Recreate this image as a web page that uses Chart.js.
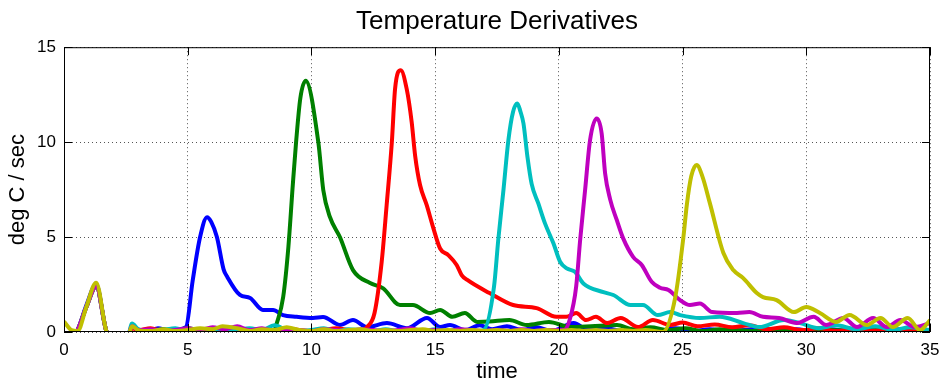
<!DOCTYPE html>
<html>
<head>
<meta charset="utf-8">
<script src="https://cdn.jsdelivr.net/npm/chart.js@4/dist/chart.umd.min.js"></script>
<style>
  html, body { margin: 0; padding: 0; background: #fff; }
  #wrap { width: 940px; height: 387px; }
</style>
</head>
<body>
<div id="wrap"><canvas id="derivChart"></canvas></div>
<script>
// time samples and deg C / sec values
const blueT = [0, 0.3, 0.55, 0.9, 1.3, 1.7, 2.1, 2.6, 2.75, 3.0, 3.4, 3.8, 4.2, 4.6, 4.93, 5.2, 5.5, 5.78, 5.95, 6.18, 6.45, 6.6, 7.11, 7.52, 8.04, 8.45, 8.85, 9.4, 10.06, 10.47, 11.15, 11.68, 12.25, 13.05, 13.86, 14.67, 15.2, 15.6, 16.2, 16.8, 17.3, 17.9, 18.5, 19.1, 19.7, 20.6, 21.2, 21.9, 22.6, 23.3, 24.0, 24.7, 25.4, 26.1, 26.8, 27.5, 28.2, 28.9, 29.6, 30.3, 31.0, 31.7, 32.4, 33.1, 33.8, 34.5, 35];
const blueY = [-0.6, -0.3, 0.1, 1.4, 2.5, 0.1, -0.8, -0.2, 0.35, 0.1, 0.05, 0.2, 0.1, 0.15, 0.26, 2.7, 5.0, 6.05, 5.8, 5.0, 3.3, 2.9, 1.95, 1.79, 1.16, 1.16, 0.89, 0.8, 0.74, 0.79, 0.37, 0.63, 0.26, 0.47, 0.2, 0.74, 0.26, 0.37, 0.1, 0.35, 0.15, 0.3, 0.1, 0.25, 0.05, 0.47, 0.1, 0.2, 0.05, 0.15, 0.05, 0.2, 0.05, 0.15, 0.05, 0.1, 0.2, 0.05, 0.15, 0.05, 0.15, 0.05, 0.1, 0.05, 0.15, 0.05, 0.1];

const greenT = [0, 0.3, 0.55, 0.9, 1.3, 1.7, 2.1, 2.6, 2.75, 3.0, 3.5, 4.0, 4.5, 5.0, 5.5, 6.0, 6.5, 7.0, 7.5, 8.0, 8.5, 8.6, 8.86, 9.07, 9.25, 9.38, 9.55, 9.77, 10.28, 10.48, 10.75, 11.15, 11.68, 12.37, 12.9, 13.58, 14.1, 14.8, 15.2, 15.7, 16.2, 16.7, 17.2, 18.0, 18.7, 19.6, 20.45, 21.3, 22.35, 23.0, 23.7, 24.4, 25.1, 25.8, 26.5, 27.2, 28.0, 29.0, 30.0, 31.0, 32.0, 33.0, 34.0, 35];
const greenY = [-0.5, -0.3, 0.1, 1.3, 2.4, 0.1, -0.8, -0.2, 0.25, 0.1, 0.05, 0.15, 0.1, 0.2, 0.1, 0.15, 0.05, 0.2, 0.1, 0.05, 0.1, 0.46, 1.86, 4.5, 7.8, 10.0, 12.3, 13.23, 9.98, 7.47, 6.05, 5.0, 3.26, 2.58, 2.3, 1.42, 1.42, 1.0, 1.16, 0.8, 1.0, 0.53, 0.55, 0.63, 0.37, 0.53, 0.26, 0.3, 0.37, 0.15, 0.25, 0.1, 0.2, 0.05, 0.15, 0.1, 0.05, 0.15, 0.05, 0.1, 0.05, 0.1, 0.05, 0.05];

const redT = [0, 0.3, 0.55, 0.9, 1.3, 1.7, 2.1, 2.6, 2.75, 3.0, 3.5, 4.0, 4.5, 5.0, 5.5, 6.0, 6.5, 7.0, 7.5, 8.0, 8.5, 9.0, 9.5, 10.0, 10.5, 11.0, 11.5, 12.0, 12.25, 12.55, 12.84, 13.04, 13.25, 13.38, 13.61, 13.85, 14.05, 14.19, 14.39, 14.66, 14.93, 15.2, 15.53, 15.87, 16.07, 16.3, 17.2, 18.15, 19.1, 19.9, 20.3, 20.7, 21.1, 21.5, 21.95, 22.5, 23.2, 23.8, 24.5, 25.0, 25.6, 26.3, 27.0, 27.7, 28.4, 29.1, 29.8, 30.5, 31.2, 31.9, 32.6, 33.3, 34.0, 35];
const redY = [-0.5, -0.3, 0.1, 1.3, 2.4, 0.1, -0.8, -0.2, 0.2, 0.1, 0.2, 0.05, 0.15, 0.1, 0.05, 0.2, 0.1, 0.05, 0.15, 0.05, 0.1, 0.2, 0.1, 0.05, 0.1, 0.2, 0.1, 0.05, 0.26, 1.0, 3.7, 6.68, 10.0, 12.8, 13.79, 12.8, 11.07, 9.3, 7.74, 6.68, 5.46, 4.4, 4.05, 3.53, 3.0, 2.74, 2.05, 1.42, 1.26, 0.8, 0.8, 1.0, 0.63, 0.8, 0.47, 0.74, 0.26, 0.63, 0.37, 0.5, 0.3, 0.4, 0.25, 0.35, 0.15, 0.25, 0.1, 0.2, 0.05, 0.15, 0.05, 0.1, 0.05, 0.05];

const cyanT = [0, 0.3, 0.55, 0.9, 1.3, 1.7, 2.1, 2.6, 2.75, 3.0, 3.5, 4.0, 4.5, 5.0, 5.5, 6.0, 6.5, 7.0, 7.5, 8.0, 8.5, 9.0, 9.5, 10.0, 10.5, 11.0, 11.5, 12.0, 12.5, 13.0, 13.5, 14.0, 14.5, 15.0, 15.5, 16.0, 16.5, 16.95, 17.38, 17.55, 17.76, 17.96, 18.15, 18.32, 18.45, 18.57, 18.73, 18.9, 19.17, 19.44, 19.78, 20.05, 20.32, 20.65, 20.99, 21.8, 22.2, 22.9, 23.4, 24.0, 24.5, 24.9, 25.7, 26.5, 27.45, 28.1, 29.1, 29.75, 30.5, 31.2, 32.0, 32.8, 33.5, 34.2, 35];
const cyanY = [-0.5, -0.3, 0.1, 1.3, 2.4, 0.1, -0.8, -0.2, 0.45, 0.15, 0.05, 0.1, 0.2, 0.05, 0.1, 0.15, 0.05, 0.1, 0.2, 0.1, 0.35, 0.1, 0.05, 0.1, 0.2, 0.05, 0.15, 0.1, 0.05, 0.15, 0.05, 0.1, 0.05, 0.15, 0.05, 0.1, 0.05, 0.1, 2.4, 4.84, 7.47, 10.1, 11.6, 12.04, 11.6, 10.98, 9.23, 7.8, 6.77, 5.72, 4.67, 3.7, 3.35, 3.17, 2.56, 2.1, 1.95, 1.42, 1.42, 0.89, 1.05, 0.89, 0.74, 0.8, 0.47, 0.26, 0.63, 0.47, 0.2, 0.35, 0.15, 0.3, 0.1, 0.25, 0.1];

const magentaT = [0, 0.3, 0.55, 0.9, 1.3, 1.7, 2.1, 2.6, 2.75, 3.0, 3.5, 4.0, 4.5, 5.0, 5.5, 6.0, 6.5, 7.0, 7.5, 8.0, 8.5, 9.0, 9.5, 10.0, 10.5, 11.0, 11.5, 12.0, 12.5, 13.0, 13.5, 14.0, 14.5, 15.0, 15.5, 16.0, 16.5, 17.0, 17.5, 18.0, 18.5, 19.0, 19.5, 20.2, 20.45, 20.7, 20.86, 21.06, 21.26, 21.53, 21.73, 21.87, 22.07, 22.34, 22.6, 23.0, 23.35, 23.75, 24.09, 24.43, 24.9, 25.3, 25.7, 26.2, 27.2, 27.7, 28.25, 28.9, 29.6, 30.3, 30.8, 31.5, 32.05, 32.7, 33.25, 33.8, 34.4, 35];
const magentaY = [-0.5, -0.3, 0.1, 1.3, 2.4, 0.1, -0.8, -0.2, 0.3, 0.1, 0.15, 0.05, 0.1, 0.2, 0.1, 0.25, 0.15, 0.3, 0.1, 0.2, 0.05, 0.15, 0.1, 0.05, 0.15, 0.1, 0.05, 0.15, 0.1, 0.05, 0.1, 0.2, 0.05, 0.1, 0.05, 0.15, 0.1, 0.05, 0.1, 0.05, 0.15, 0.05, 0.1, 0.1, 0.7, 2.4, 4.84, 7.47, 10.1, 11.25, 10.46, 8.35, 7.0, 5.9, 4.93, 3.96, 3.53, 2.65, 2.33, 2.21, 1.68, 1.42, 1.5, 1.05, 1.0, 1.05, 0.8, 0.74, 0.47, 0.8, 0.37, 0.74, 0.26, 0.74, 0.26, 0.63, 0.26, 0.47];

const yellowT = [0, 0.3, 0.55, 0.9, 1.3, 1.7, 2.1, 2.6, 2.75, 3.0, 3.5, 4.0, 4.5, 5.0, 5.5, 6.0, 6.4, 7.0, 7.5, 8.0, 8.5, 9.0, 9.5, 10.0, 10.5, 11.0, 11.5, 12.0, 12.5, 13.0, 13.5, 14.0, 14.5, 15.0, 15.5, 16.0, 16.5, 17.0, 17.5, 18.0, 18.5, 19.0, 19.5, 20.0, 20.5, 21.0, 21.5, 22.0, 22.5, 23.0, 23.5, 24.2, 24.7, 25.03, 25.17, 25.35, 25.57, 25.8, 26.1, 26.65, 27.05, 27.45, 28.0, 28.25, 28.8, 29.5, 30.0, 30.55, 31.2, 31.75, 32.45, 33.0, 33.5, 34.1, 34.6, 35];
const yellowY = [0.55, 0.1, 0.05, 1.3, 2.6, 0.1, -0.8, -0.2, 0.3, 0.1, 0.05, 0.15, 0.05, 0.1, 0.2, 0.15, 0.3, 0.2, 0.05, 0.15, 0.1, 0.25, 0.1, 0.05, 0.15, 0.05, 0.1, 0.15, 0.05, 0.1, 0.05, 0.1, 0.15, 0.05, 0.1, 0.05, 0.1, 0.05, 0.1, 0.05, 0.1, 0.05, 0.1, 0.05, 0.1, 0.05, 0.1, 0.05, 0.1, 0.05, 0.1, 0.0, 1.8, 4.95, 6.68, 8.2, 8.79, 8.2, 6.8, 4.16, 3.26, 2.84, 2.05, 1.84, 1.68, 1.05, 1.32, 1.0, 0.53, 0.9, 0.37, 0.74, 0.26, 0.74, 0.1, 0.63];

const seriesList = [
  { t: blueT, y: blueY, color: '#0000ff' },
  { t: greenT, y: greenY, color: '#008000' },
  { t: redT, y: redY, color: '#ff0000' },
  { t: cyanT, y: cyanY, color: '#00bfbf' },
  { t: magentaT, y: magentaY, color: '#bf00bf' },
  { t: yellowT, y: yellowY, color: '#bfbf00' }
];

const xTicks = [0, 5, 10, 15, 20, 25, 30, 35];
const yTicks = [0, 5, 10, 15];

// box + inward tick marks like matlab axes
const frameBox = {
  id: 'frameBox',
  afterDraw(chart) {
    const { ctx, chartArea: a, scales } = chart;
    ctx.save();
    ctx.strokeStyle = '#000';
    ctx.lineWidth = 1;
    ctx.strokeRect(a.left + 0.5, a.top + 0.5, a.right - a.left - 1, a.bottom - a.top - 1);
    ctx.beginPath();
    xTicks.forEach(v => {
      const px = Math.round(scales.x.getPixelForValue(v)) + 0.5;
      ctx.moveTo(px, a.bottom); ctx.lineTo(px, a.bottom - 8);
      ctx.moveTo(px, a.top); ctx.lineTo(px, a.top + 8);
    });
    yTicks.forEach(v => {
      const py = Math.round(scales.y.getPixelForValue(v)) + 0.5;
      ctx.moveTo(a.left, py); ctx.lineTo(a.left + 8, py);
      ctx.moveTo(a.right, py); ctx.lineTo(a.right - 8, py);
    });
    ctx.stroke();
    ctx.restore();
  }
};

const font = 'Liberation Sans, Arial, Helvetica, sans-serif';

new Chart(document.getElementById('derivChart'), {
  type: 'line',
  data: {
    datasets: seriesList.map((s, i) => ({
      data: s.t.map((t, k) => ({ x: t, y: s.y[k] })),
      borderColor: s.color,
      borderWidth: 4,
      pointRadius: 0,
      cubicInterpolationMode: 'monotone',
      fill: false,
      order: seriesList.length - i
    }))
  },
  options: {
    responsive: true,
    maintainAspectRatio: false,
    animation: false,
    layout: { padding: { left: 0, right: 10, top: 0, bottom: 0 } },
    plugins: {
      legend: { display: false },
      tooltip: { enabled: false },
      title: {
        display: true,
        fullSize: false,
        text: 'Temperature Derivatives',
        color: '#000',
        font: { family: font, size: 26, weight: 'normal' },
        padding: { top: 6, bottom: 10 }
      }
    },
    scales: {
      x: {
        type: 'linear',
        min: 0, max: 35,
        afterFit(scale) { scale.height = 55; scale.paddingRight = 0; scale.paddingLeft = 0; },
        ticks: { stepSize: 5, color: '#000', padding: 8, maxRotation: 0, font: { family: font, size: 17 } },
        grid: { color: '#555', lineWidth: 1, drawTicks: false },
        border: { display: false, dash: [1, 3] },
        title: { display: true, text: 'time', color: '#000', font: { family: font, size: 22 }, padding: { top: 0, bottom: 2 } }
      },
      y: {
        min: 0, max: 15,
        afterFit(scale) { scale.width = 64; },
        ticks: { stepSize: 5, color: '#000', padding: 8, font: { family: font, size: 17 } },
        grid: { color: '#555', lineWidth: 1, drawTicks: false },
        border: { display: false, dash: [1, 3] },
        title: { display: true, text: 'deg C / sec', color: '#000', font: { family: font, size: 22 }, padding: { top: 5, bottom: 0 } }
      }
    }
  },
  plugins: [frameBox]
});
</script>
</body>
</html>
